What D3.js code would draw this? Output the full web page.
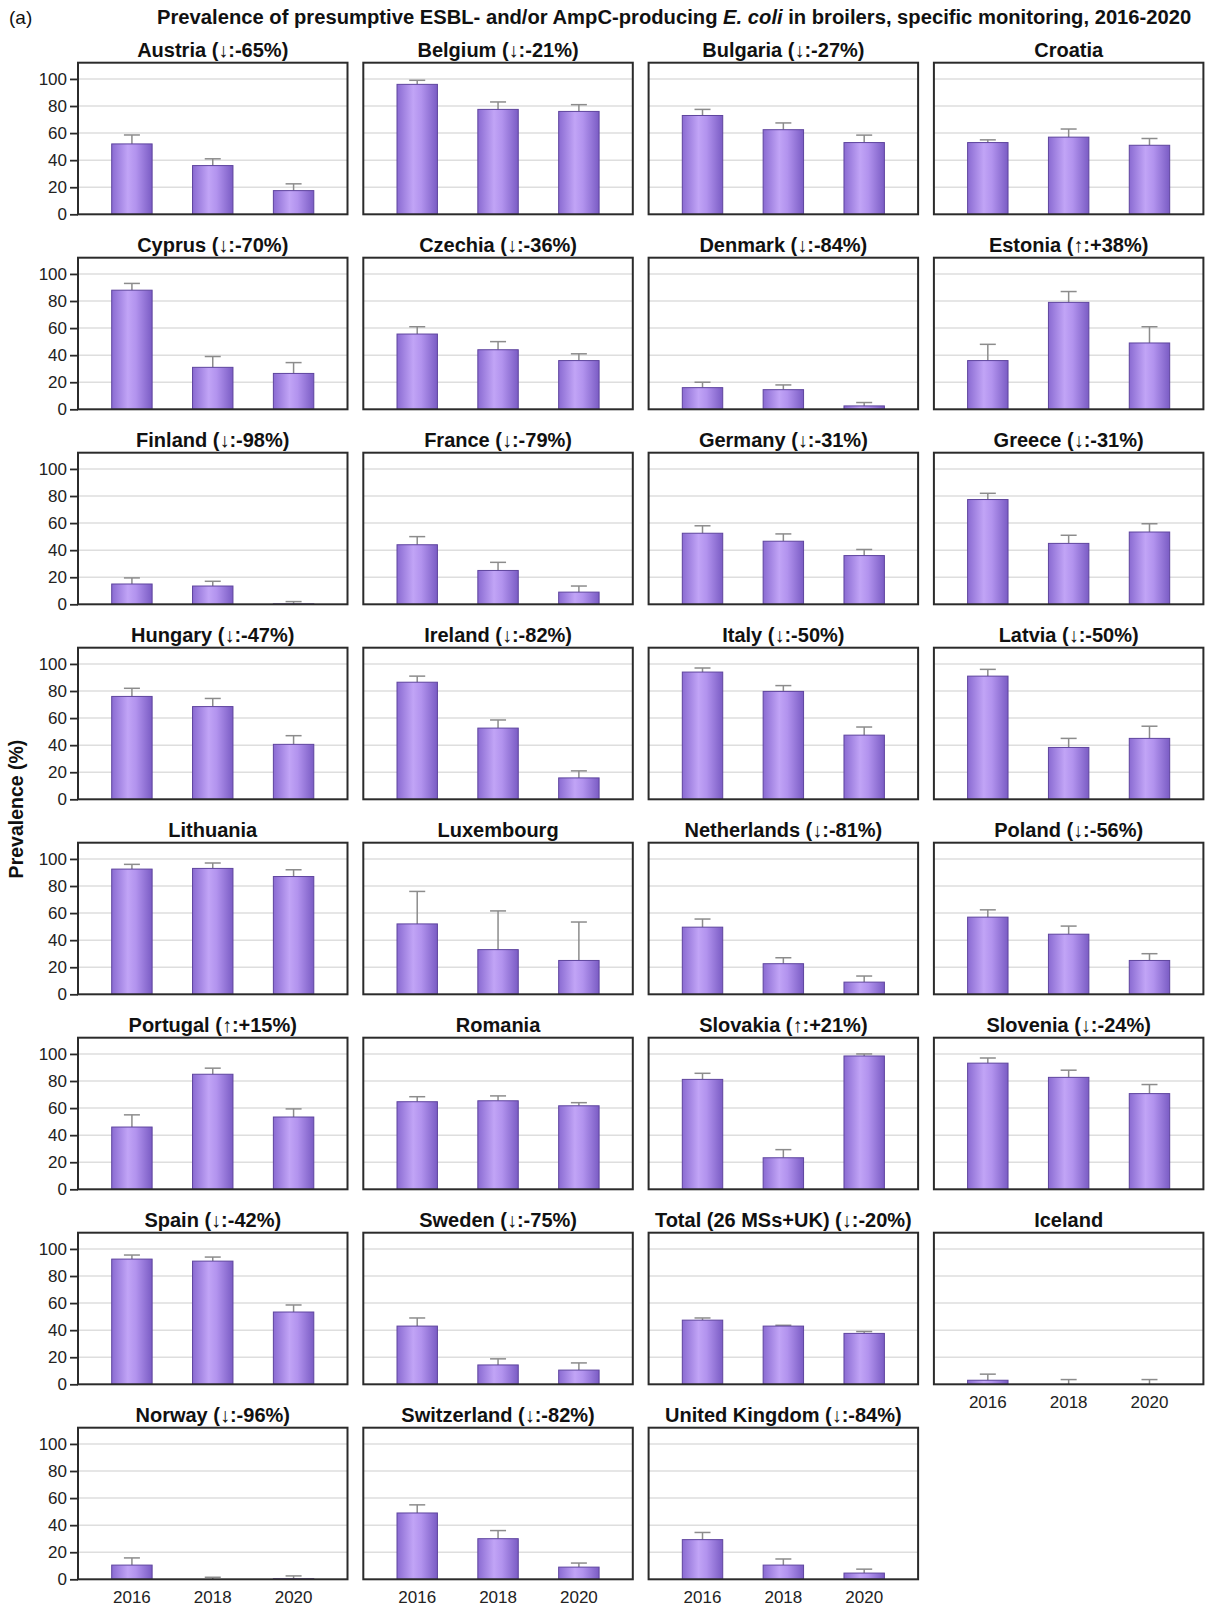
<!DOCTYPE html>
<html>
<head>
<meta charset="utf-8">
<script src="https://cdn.jsdelivr.net/npm/d3@7"></script>
<style>
  html, body { margin: 0; padding: 0; background: #ffffff; }
  svg { display: block; font-family: "Liberation Sans", Arial, sans-serif; }
</style>
</head>
<body>
<svg id="chart" width="1210" height="1609"></svg>
<script>
// ---------------- data ----------------
const years = ["2016", "2018", "2020"];
const yTicks = [0, 20, 40, 60, 80, 100];
const panelTitles = [
  "Austria (↓:-65%)", "Belgium (↓:-21%)", "Bulgaria (↓:-27%)", "Croatia",
  "Cyprus (↓:-70%)", "Czechia (↓:-36%)", "Denmark (↓:-84%)", "Estonia (↑:+38%)",
  "Finland (↓:-98%)", "France (↓:-79%)", "Germany (↓:-31%)", "Greece (↓:-31%)",
  "Hungary (↓:-47%)", "Ireland (↓:-82%)", "Italy (↓:-50%)", "Latvia (↓:-50%)",
  "Lithuania", "Luxembourg", "Netherlands (↓:-81%)", "Poland (↓:-56%)",
  "Portugal (↑:+15%)", "Romania", "Slovakia (↑:+21%)", "Slovenia (↓:-24%)",
  "Spain (↓:-42%)", "Sweden (↓:-75%)", "Total (26 MSs+UK) (↓:-20%)", "Iceland",
  "Norway (↓:-96%)", "Switzerland (↓:-82%)", "United Kingdom (↓:-84%)"
];
// prevalence (%) per year
const prev2016 = [52, 96, 73, 53, 88, 55.6, 16, 36, 15, 44, 52.5, 77.4, 76, 86.5, 94, 91,
  92.5, 52, 49.6, 57, 46, 64.7, 81.2, 93.2, 92.5, 43, 47.4, 3, 10.5, 49, 29.3];
const prev2018 = [36, 77.5, 62.5, 57, 31, 44, 14.5, 79, 13.5, 25, 46.6, 45, 68.5, 52.6, 79.7, 38.3,
  93, 33, 22.6, 44.4, 85, 65.4, 23.3, 82.7, 91, 14.3, 43, 0, 0, 30, 10.5];
const prev2020 = [17.5, 76, 53, 51, 26.5, 36, 2.5, 49, 0.3, 9, 36, 53.4, 40.6, 15.8, 47.4, 45,
  87, 25, 9, 25, 53.4, 61.7, 98.5, 70.7, 53.4, 10.5, 37.6, 0, 0.4, 9, 4.6];
// upper confidence limit (%) per year
const upper2016 = [58.6, 99, 77.5, 55, 93, 61, 20, 48, 19.5, 50, 58, 82, 82, 91, 97, 96,
  96, 76, 55.6, 62.4, 55, 68.4, 85.7, 97, 95.5, 49, 49, 7.5, 15.8, 55, 34.6];
const upper2018 = [41, 83, 67.5, 63, 39, 50, 18, 87, 17, 31, 52, 51, 74.5, 58.6, 84, 45,
  97, 61.6, 27, 50.4, 89.5, 69, 29.3, 88, 94, 18.8, 43.6, 3.5, 1.5, 36, 15];
const upper2020 = [22.5, 81, 58.5, 56, 34.5, 41, 5, 61, 2, 13.5, 40.5, 59.5, 47, 21, 53.4, 54,
  92, 53.4, 13.5, 30, 59.4, 64, 100, 77.4, 58.6, 15.8, 39, 3.5, 2.5, 12, 7.5];

const mainTitlePre = "Prevalence of presumptive ESBL- and/or AmpC-producing ";
const mainTitleItal = "E. coli";
const mainTitlePost = " in broilers, specific monitoring, 2016-2020";
const yAxisTitle = "Prevalence (%)";
const panelLabel = "(a)";

// ---------------- layout ----------------
const nCols = 4;
const colLeft0 = 78, colPitch = 285.3, panelW = 269.5;
const rowTop0 = 62.7, rowPitch = 195.0, panelH = 151.6;

const svg = d3.select("#chart");

const defs = svg.append("defs");
const grad = defs.append("linearGradient").attr("id", "barGrad")
  .attr("x1", "0%").attr("x2", "100%").attr("y1", "0%").attr("y2", "0%");
grad.append("stop").attr("offset", "0%").attr("stop-color", "#8a6bd2");
grad.append("stop").attr("offset", "40%").attr("stop-color", "#c1a4f6");
grad.append("stop").attr("offset", "60%").attr("stop-color", "#b293ee");
grad.append("stop").attr("offset", "100%").attr("stop-color", "#7a5cc4");

const x = d3.scaleBand().domain(years).range([0, panelW]).paddingInner(0.5).paddingOuter(0.417);
const y = d3.scaleLinear().domain([0, 112]).range([panelH, 0]);

const xLabelPanels = new Set([27, 28, 29, 30]);

panelTitles.forEach((title, i) => {
  const col = i % nCols, row = Math.floor(i / nCols);
  const left = colLeft0 + col * colPitch;
  const top = rowTop0 + row * rowPitch;
  const g = svg.append("g").attr("transform", `translate(${left},${top})`);

  const vals = [prev2016[i], prev2018[i], prev2020[i]];
  const ups = [upper2016[i], upper2018[i], upper2020[i]];
  const data = years.map((yr, k) => ({ yr, v: vals[k], up: ups[k] }));

  // gridlines
  g.selectAll("line.grid").data(yTicks.filter(t => t > 0)).join("line")
    .attr("class", "grid")
    .attr("x1", 0).attr("x2", panelW)
    .attr("y1", d => y(d)).attr("y2", d => y(d))
    .attr("stroke", "#dedede").attr("stroke-width", 1.5);

  // error bars (upper only)
  const capW = 16;
  g.selectAll("line.err").data(data).join("line")
    .attr("class", "err")
    .attr("x1", d => x(d.yr) + x.bandwidth() / 2).attr("x2", d => x(d.yr) + x.bandwidth() / 2)
    .attr("y1", d => y(d.v)).attr("y2", d => y(d.up))
    .attr("stroke", "#8c8c8c").attr("stroke-width", 1.5);
  g.selectAll("line.cap").data(data).join("line")
    .attr("class", "cap")
    .attr("x1", d => x(d.yr) + x.bandwidth() / 2 - capW / 2).attr("x2", d => x(d.yr) + x.bandwidth() / 2 + capW / 2)
    .attr("y1", d => y(d.up)).attr("y2", d => y(d.up))
    .attr("stroke", "#8c8c8c").attr("stroke-width", 1.5);

  // bars
  g.selectAll("rect.bar").data(data.filter(d => d.v > 0)).join("rect")
    .attr("class", "bar")
    .attr("x", d => x(d.yr)).attr("width", x.bandwidth())
    .attr("y", d => y(d.v)).attr("height", d => panelH - y(d.v))
    .attr("fill", "url(#barGrad)")
    .attr("stroke", "#5e449e").attr("stroke-width", 1);

  // frame
  g.append("rect").attr("x", 0).attr("y", 0).attr("width", panelW).attr("height", panelH)
    .attr("fill", "none").attr("stroke", "#2b2b2b").attr("stroke-width", 2);

  // panel title
  g.append("text").attr("x", panelW / 2).attr("y", -6)
    .attr("text-anchor", "middle").attr("font-weight", "bold").attr("font-size", 20)
    .attr("fill", "#111").text(title);

  // y axis (first column)
  if (col === 0) {
    const yAxis = d3.axisLeft(y).tickValues(yTicks).tickSize(8).tickPadding(3);
    const ya = g.append("g").call(yAxis);
    ya.select(".domain").remove();
    ya.selectAll(".tick line").attr("stroke", "#2b2b2b").attr("stroke-width", 1.8);
    ya.selectAll(".tick text").attr("font-size", 17).attr("fill", "#222")
      .attr("font-family", "Liberation Sans, Arial, sans-serif");
  }

  // x axis labels
  if (xLabelPanels.has(i)) {
    const xAxis = d3.axisBottom(x).tickSize(0).tickPadding(12);
    const xa = g.append("g").attr("transform", `translate(0,${panelH})`).call(xAxis);
    xa.select(".domain").remove();
    xa.selectAll(".tick text").attr("font-size", 17).attr("fill", "#222")
      .attr("font-family", "Liberation Sans, Arial, sans-serif");
  }
});

// main title
const mt = svg.append("text").attr("x", 0).attr("y", 0)
  .attr("font-weight", "bold").attr("font-size", 20).attr("fill", "#111");
mt.append("tspan").text(mainTitlePre);
mt.append("tspan").attr("font-style", "italic").text(mainTitleItal);
mt.append("tspan").text(mainTitlePost);
const natW = mt.node().getComputedTextLength();
const targetLeft = 157, targetRight = 1192;
mt.attr("transform", `translate(${targetLeft},24) scale(${(targetRight - targetLeft) / natW},1)`);

// panel label
svg.append("text").attr("x", 9).attr("y", 24).attr("font-size", 19).attr("fill", "#111").text(panelLabel);

// y axis title
svg.append("text")
  .attr("transform", "translate(23,809) rotate(-90)")
  .attr("text-anchor", "middle").attr("font-weight", "bold").attr("font-size", 19.5)
  .attr("fill", "#111").text(yAxisTitle);
</script>
</body>
</html>
